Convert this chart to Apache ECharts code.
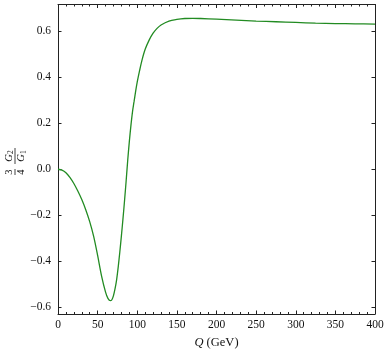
<!DOCTYPE html>
<html>
<head>
<meta charset="utf-8">
<script src="https://cdn.jsdelivr.net/npm/echarts@6/dist/echarts.min.js"></script>
<style>
  html, body { margin: 0; padding: 0; background: #fff; }
  #chart { width: 388px; height: 354px; }
</style>
</head>
<body>
<div id="chart"></div>
<script>
// Q values (GeV) and 3/4 G2/G1
var qValues = [0, 5, 10, 15, 20, 25, 30, 35, 40, 45, 50, 55, 60, 63, 66, 68, 70, 72, 74, 76, 78, 80,
  82, 84, 86, 88, 90, 92, 94, 96, 98, 100, 103, 106, 110, 115, 120, 125, 130, 140, 150, 160, 170,
  180, 200, 225, 250, 275, 300, 325, 350, 375, 400];
var ratioValues = [0, -0.004, -0.015, -0.035, -0.062, -0.095, -0.132, -0.176, -0.228, -0.292, -0.375, -0.465, -0.535, -0.562, -0.572, -0.568, -0.55, -0.52, -0.48, -0.425, -0.36, -0.29,
  -0.215, -0.135, -0.05, 0.04, 0.12, 0.19, 0.25, 0.295, 0.34, 0.38, 0.43, 0.475, 0.522, 0.562, 0.592, 0.613, 0.628, 0.645, 0.652, 0.656, 0.657,
  0.656, 0.653, 0.649, 0.645, 0.642, 0.639, 0.636, 0.634, 0.633, 0.632];
var yTicks = [-0.6, -0.4, -0.2, 0, 0.2, 0.4, 0.6];

var font = 'Liberation Serif';
var lineColor = '#222';

var data = [];
for (var i = 0; i < qValues.length; i++) {
  data.push([qValues[i], ratioValues[i]]);
}

function fmtY(v) {
  return v.toFixed(1).replace('-', '\u2212');
}

var chart = echarts.init(document.getElementById('chart'));

var baseX = {
  type: 'value',
  min: 0,
  max: 400,
  interval: 50,
  axisLine: { show: true, onZero: false, lineStyle: { color: lineColor, width: 1 } },
  axisTick: { show: true, inside: true, length: 3.5, lineStyle: { color: lineColor } },
  minorTick: { show: true, splitNumber: 5, length: 2, lineStyle: { color: lineColor } },
  splitLine: { show: false }
};
var baseY = {
  type: 'value',
  min: -0.63,
  max: 0.717,
  axisLine: { show: true, onZero: false, lineStyle: { color: lineColor, width: 1 } },
  axisTick: { show: true, inside: true, length: 3.5, customValues: yTicks, lineStyle: { color: lineColor } },
  splitLine: { show: false }
};

var option = {
  animation: false,
  grid: { left: 58, right: 13, top: 4.5, bottom: 36 },
  xAxis: [
    Object.assign({}, baseX, {
      position: 'bottom',
      name: '{i|Q} (GeV)',
      nameLocation: 'middle',
      nameGap: 22,
      nameTextStyle: {
        fontFamily: font, fontSize: 12.5, color: '#111',
        rich: { i: { fontFamily: font, fontStyle: 'italic', fontSize: 12.5, color: '#111' } }
      },
      axisLabel: { show: true, margin: 5, fontFamily: font, fontSize: 11.5, color: '#111' }
    }),
    Object.assign({}, baseX, { position: 'top', axisLabel: { show: false } })
  ],
  yAxis: [
    Object.assign({}, baseY, {
      position: 'left',
      axisLabel: {
        show: true, margin: 7, customValues: yTicks, formatter: fmtY,
        fontFamily: font, fontSize: 11.5, color: '#111'
      }
    }),
    Object.assign({}, baseY, { position: 'right', axisLabel: { show: false } })
  ],
  graphic: [{
    type: 'group',
    x: 15,
    y: 163,
    rotation: Math.PI / 2,
    children: [
      { type: 'text', x: -9, y: -6, style: { text: '3', fontFamily: font, fontSize: 10.5, fill: '#111', align: 'center', verticalAlign: 'middle' } },
      { type: 'line', shape: { x1: -12, y1: 0, x2: -6, y2: 0 }, style: { stroke: '#111', lineWidth: 0.8 } },
      { type: 'text', x: -9, y: 6.5, style: { text: '4', fontFamily: font, fontSize: 10.5, fill: '#111', align: 'center', verticalAlign: 'middle' } },
      {
        type: 'text', x: 7, y: -6,
        style: {
          text: '{g|G}{s|2}', align: 'center', verticalAlign: 'middle',
          rich: { g: { fontFamily: font, fontStyle: 'italic', fontSize: 10.5, fill: '#111' }, s: { fontFamily: font, fontSize: 7.5, fill: '#111', padding: [5, 0, 0, 0] } }
        }
      },
      { type: 'line', shape: { x1: -1, y1: 0, x2: 15, y2: 0 }, style: { stroke: '#111', lineWidth: 0.8 } },
      {
        type: 'text', x: 7, y: 6.5,
        style: {
          text: '{g|G}{s|1}', align: 'center', verticalAlign: 'middle',
          rich: { g: { fontFamily: font, fontStyle: 'italic', fontSize: 10.5, fill: '#111' }, s: { fontFamily: font, fontSize: 7.5, fill: '#111', padding: [5, 0, 0, 0] } }
        }
      }
    ]
  }],
  series: [{
    type: 'line',
    data: data,
    smooth: 0.3,
    showSymbol: false,
    lineStyle: { color: '#228b22', width: 1.3 },
    itemStyle: { color: '#228b22' }
  }]
};

chart.setOption(option);
</script>
</body>
</html>
